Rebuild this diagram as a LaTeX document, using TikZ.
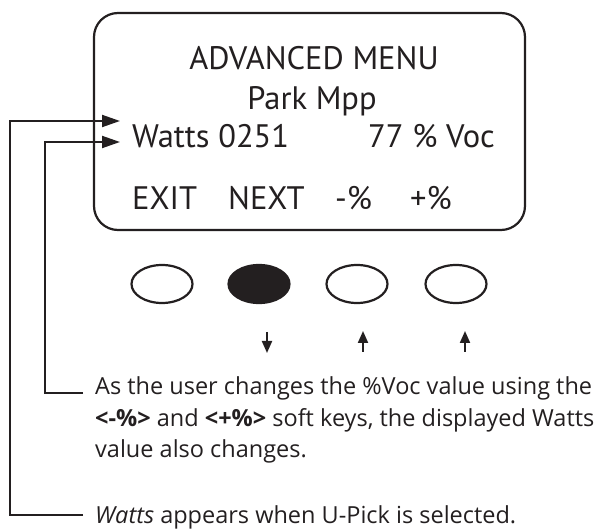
\documentclass[tikz,border=0pt]{standalone}
\usepackage{fontspec}
\setmainfont{PT Sans}
\newfontfamily\notefont{Open Sans}
\usetikzlibrary{arrows.meta,shapes.geometric}
\definecolor{ink}{HTML}{231F20}
\begin{document}
\begin{tikzpicture}[x=1pt,y=-1pt,
  disp/.style={font=\fontsize{32.5}{32.5}\selectfont, text=ink, inner sep=0pt},
  note/.style={font=\notefont\fontsize{23.5}{31}\selectfont, text=ink, inner sep=0pt, anchor=base west},
  keybtn/.style={ellipse, draw=ink, line width=2.2pt, minimum width=61pt, minimum height=38pt, inner sep=0pt},
  karrow/.style={draw=ink, line width=2pt, -{Triangle[length=12pt,width=10pt]}},
  conn/.style={draw=ink, line width=2pt, -{Triangle[length=18pt,width=12pt]}}]
\useasboundingbox (0,0) rectangle (600,529);
% screen
\node[draw=ink, line width=2.2pt, rounded corners=24pt, minimum width=431pt, minimum height=217pt, inner sep=0pt] (screen) at (309.5,121.5) {};
\node[disp, anchor=base] (title) at (314,70) {ADVANCED MENU};
\node[disp, anchor=base] (park) at (312,110) {Park Mpp};
\node[disp, anchor=base west] (watts) at (132,148) {Watts 0251};
\node[disp, anchor=base east] (voc) at (495,148) {77 \% Voc};
\node[disp, anchor=base west] (exit) at (132,210) {EXIT};
\node[disp, anchor=base west] (next) at (228,210) {NEXT};
\node[disp, anchor=base west] (minus) at (335,210) {-\%};
\node[disp, anchor=base west] (plus) at (410,210) {+\%};
% soft keys
\node[keybtn] (k1) at (162,284) {};
\node[keybtn, fill=ink] (k2) at (259,284) {};
\node[keybtn] (k3) at (357,284) {};
\node[keybtn] (k4) at (456,284) {};
\coordinate (a2t) at (267,332); \coordinate (a2b) at (267,353);
\coordinate (a3t) at (363,331); \coordinate (a3b) at (363,352);
\coordinate (a4t) at (465,331); \coordinate (a4b) at (465,352);
\draw[karrow] (a2t) -- (a2b);
\draw[karrow] (a3b) -- (a3t);
\draw[karrow] (a4b) -- (a4t);
% notes
\node[note] (n1) at (95,395) {As the user changes the \%Voc value using the};
\node[note] (n2) at (95,426) {\textbf{<-\%>} and \textbf{<+\%>} soft keys, the displayed Watts};
\node[note] (n3) at (95,457) {value also changes.};
\node[note] (n4) at (95,523) {\textit{Watts} appears when U-Pick is selected.};
\coordinate (c1) at (83,393);
\coordinate (c2) at (83,515);
\draw[conn] (c2) -- (10,515) |- ([xshift=-12pt,yshift=27pt]watts.base west);
\draw[conn] (c1) -- (45,393) |- ([xshift=-12pt,yshift=6pt]watts.base west);
\end{tikzpicture}
\end{document}
